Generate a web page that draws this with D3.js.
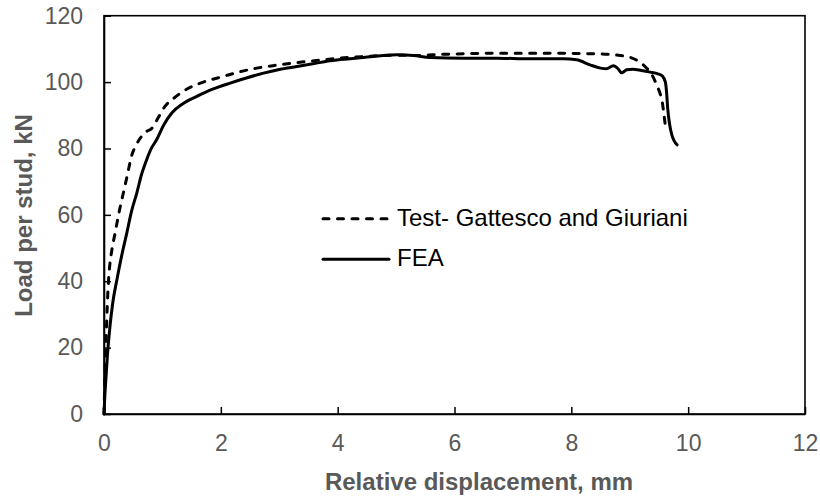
<!DOCTYPE html>
<html>
<head>
<meta charset="utf-8">
<script src="https://cdn.jsdelivr.net/npm/d3@7"></script>
<style>
  html, body { margin: 0; padding: 0; background: #fff; }
  svg { display: block; font-family: "Liberation Sans", Arial, sans-serif; }
</style>
</head>
<body>
<svg id="chart" width="820" height="498"></svg>
<script>
// ---- data ----
const xTicks = [0, 2, 4, 6, 8, 10, 12];
const yTicks = [0, 20, 40, 60, 80, 100, 120];
const seriesNames = ["Test- Gattesco and Giuriani", "FEA"];

const testX = [0, 0.01, 0.02, 0.035, 0.055, 0.08, 0.10, 0.14, 0.19, 0.26, 0.33, 0.40, 0.47, 0.55, 0.62, 0.72, 0.82, 0.92, 1.04, 1.2, 1.42, 1.7, 2.04, 2.3, 2.61, 3.0, 3.47, 4.04, 4.44, 5.0, 5.3, 5.87, 6.72, 7.58, 8.44, 8.84, 9.0, 9.12, 9.21, 9.29, 9.38, 9.46, 9.52, 9.55, 9.58, 9.62];
const testY = [0, 7, 14, 22, 32, 41, 45, 50, 54.5, 61, 66.5, 72, 77.6, 81, 83.1, 85, 86.1, 89, 92.6, 95.2, 97.9, 100, 101.7, 103, 104.2, 105.2, 106.2, 107.2, 107.7, 108.1, 108.0, 108.4, 108.7, 108.7, 108.5, 108.0, 107.5, 106.6, 105.5, 104.2, 102.2, 99.2, 96.5, 94.7, 91, 85.3];

const feaX = [0, 0.01, 0.03, 0.06, 0.10, 0.15, 0.22, 0.30, 0.39, 0.47, 0.56, 0.64, 0.73, 0.81, 0.90, 1.02, 1.16, 1.35, 1.59, 1.85, 2.16, 2.45, 2.73, 3.0, 3.30, 3.6, 3.87, 4.44, 5.01, 5.30, 5.58, 6.15, 6.72, 7.29, 7.86, 8.09, 8.32, 8.5, 8.6, 8.72, 8.8, 8.86, 8.95, 9.05, 9.2, 9.35, 9.48, 9.56, 9.61, 9.63, 9.65, 9.68, 9.72, 9.76, 9.81];
const feaY = [0, 4, 10, 18, 26, 33.5, 40.4, 47.5, 54.5, 61, 66.5, 72, 76.6, 80, 82.6, 87, 90.7, 93.5, 95.7, 97.8, 99.7, 101.3, 102.7, 103.8, 104.7, 105.6, 106.4, 107.4, 108.2, 108.0, 107.4, 107.2, 107.2, 107.0, 107.0, 106.7, 105.2, 104.2, 104.0, 104.9, 104.0, 102.8, 103.7, 103.9, 103.5, 103.0, 102.5, 101.8, 100, 97, 92, 87.5, 84.1, 82.3, 81.1];

// ---- layout ----
const plot = { left: 104, right: 805, top: 15.7, bottom: 414 };
const svg = d3.select("#chart");

const x = d3.scaleLinear().domain([0, 12]).range([plot.left, plot.right]);
const y = d3.scaleLinear().domain([0, 120]).range([plot.bottom, plot.top]);

const gray = "#595959";

// axes
const xAxis = d3.axisBottom(x).tickValues(xTicks).tickSizeInner(-7).tickSizeOuter(0).tickPadding(20.5).tickFormat(d3.format("d"));
const yAxis = d3.axisLeft(y).tickValues(yTicks).tickSizeInner(-7).tickSizeOuter(0).tickPadding(21).tickFormat(d3.format("d"));

const gx = svg.append("g").attr("transform", `translate(0,${plot.bottom})`).call(xAxis);
const gy = svg.append("g").attr("transform", `translate(${plot.left},0)`).call(yAxis);

[gx, gy].forEach(g => {
  g.select(".domain").attr("stroke", "#000").attr("stroke-width", 1.6);
  g.selectAll(".tick line").attr("stroke", "#000").attr("stroke-width", 1.5);
  g.selectAll(".tick text").attr("fill", gray).attr("font-size", 23)
    .attr("font-family", "'Liberation Sans', Arial, sans-serif");
});

// plot frame
svg.append("rect")
  .attr("x", plot.left).attr("y", plot.top)
  .attr("width", plot.right - plot.left).attr("height", plot.bottom - plot.top)
  .attr("fill", "none").attr("stroke", "#000").attr("stroke-width", 1.6);

// lines
const line = d3.line().x(d => x(d[0])).y(d => y(d[1])).curve(d3.curveMonotoneX);
const testData = testX.map((v, i) => [v, testY[i]]);
const feaData = feaX.map((v, i) => [v, feaY[i]]);

svg.append("path").datum(testData).attr("d", line)
  .attr("fill", "none").attr("stroke", "#000").attr("stroke-width", 3)
  .attr("stroke-dasharray", "6,8.5").attr("stroke-linecap", "round");

svg.append("path").datum(feaData).attr("d", line)
  .attr("fill", "none").attr("stroke", "#000").attr("stroke-width", 3)
  .attr("stroke-linejoin", "round").attr("stroke-linecap", "round");

// legend
const legend = svg.append("g");
const legRows = [
  { name: seriesNames[0], dash: "6,8.5", ly: 218.7, ty: 225.5 },
  { name: seriesNames[1], dash: null, ly: 259.3, ty: 266 }
];
legRows.forEach(r => {
  const l = legend.append("line")
    .attr("x1", 323).attr("x2", 389).attr("y1", r.ly).attr("y2", r.ly)
    .attr("stroke", "#000").attr("stroke-width", 3).attr("stroke-linecap", "round");
  if (r.dash) l.attr("stroke-dasharray", r.dash);
  legend.append("text").attr("x", 397).attr("y", r.ty)
    .attr("font-size", 24).attr("fill", "#000").text(r.name);
});

// axis titles
svg.append("text")
  .attr("x", 479).attr("y", 490).attr("text-anchor", "middle")
  .attr("font-size", 24).attr("font-weight", "bold").attr("fill", gray)
  .text("Relative displacement, mm");

svg.append("text")
  .attr("transform", "translate(31.5,215.5) rotate(-90)")
  .attr("text-anchor", "middle")
  .attr("font-size", 24).attr("font-weight", "bold").attr("fill", gray)
  .text("Load per stud, kN");
</script>
</body>
</html>
